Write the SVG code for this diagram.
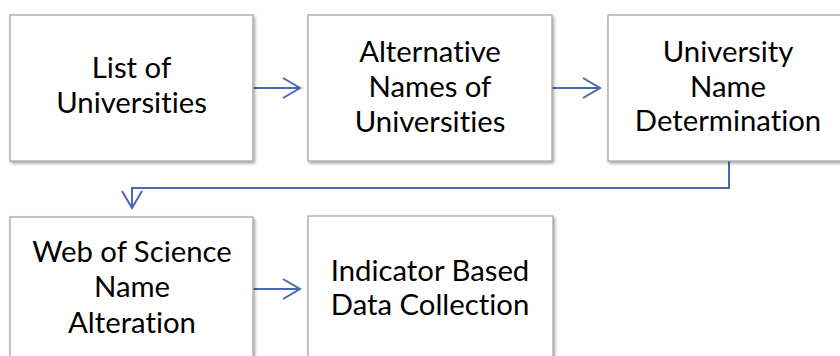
<svg xmlns="http://www.w3.org/2000/svg" width="840" height="356" viewBox="0 0 840 356">
<defs>
<filter id="sh" x="-10%" y="-10%" width="130%" height="130%">
<feDropShadow dx="1.5" dy="2" stdDeviation="1.5" flood-color="#000" flood-opacity="0.35"/>
</filter>
<marker id="ah" markerWidth="20" markerHeight="24" refX="18" refY="11" orient="auto" markerUnits="userSpaceOnUse">
<path d="M1,1 L18,11 L1,21" fill="none" stroke="#4a69b0" stroke-width="2"/>
</marker>
<style>
.box{fill:#fff;stroke:#a0a0a0;stroke-width:1.2;filter:url(#sh)}
.t{font-family:Lato,"Open Sans","Liberation Sans",sans-serif;font-size:29.3px;fill:#000;text-anchor:middle;font-variant-ligatures:none;font-feature-settings:"liga" 0,"clig" 0,"dlig" 0}
.c{fill:none;stroke:#4a69b0;stroke-width:2}
</style>
</defs>
<rect width="840" height="356" fill="#fff"/>
<g id="connectors">
<path class="c" d="M253,88 H300" marker-end="url(#ah)"/>
<path class="c" d="M552,88 H600" marker-end="url(#ah)"/>
<path class="c" d="M729,161 V188 H132 V208" marker-end="url(#ah)"/>
<path class="c" d="M253,289 H300" marker-end="url(#ah)"/>
</g>
<g id="n1">
<rect class="box" x="10" y="15" width="243" height="146"/>
<text class="t" x="131.5" y="78">List of</text>
<text class="t" x="131.5" y="113">Universities</text>
</g>
<g id="n2">
<rect class="box" x="308" y="15" width="244" height="146"/>
<text class="t" x="430" y="62">Alternative</text>
<text class="t" x="430" y="97">Names of</text>
<text class="t" x="430" y="132">Universities</text>
</g>
<g id="n3">
<rect class="box" x="608" y="15" width="241" height="146"/>
<text class="t" x="728" y="62">University</text>
<text class="t" x="728" y="97">Name</text>
<text class="t" x="728" y="131">Determination</text>
</g>
<g id="n4">
<rect class="box" x="10" y="217" width="243" height="146"/>
<text class="t" x="132" y="262">Web of Science</text>
<text class="t" x="132" y="297">Name</text>
<text class="t" x="132" y="333">Alteration</text>
</g>
<g id="n5">
<rect class="box" x="308" y="216" width="245" height="146"/>
<text class="t" x="430" y="281">Indicator Based</text>
<text class="t" x="430" y="315">Data Collection</text>
</g>
</svg>
